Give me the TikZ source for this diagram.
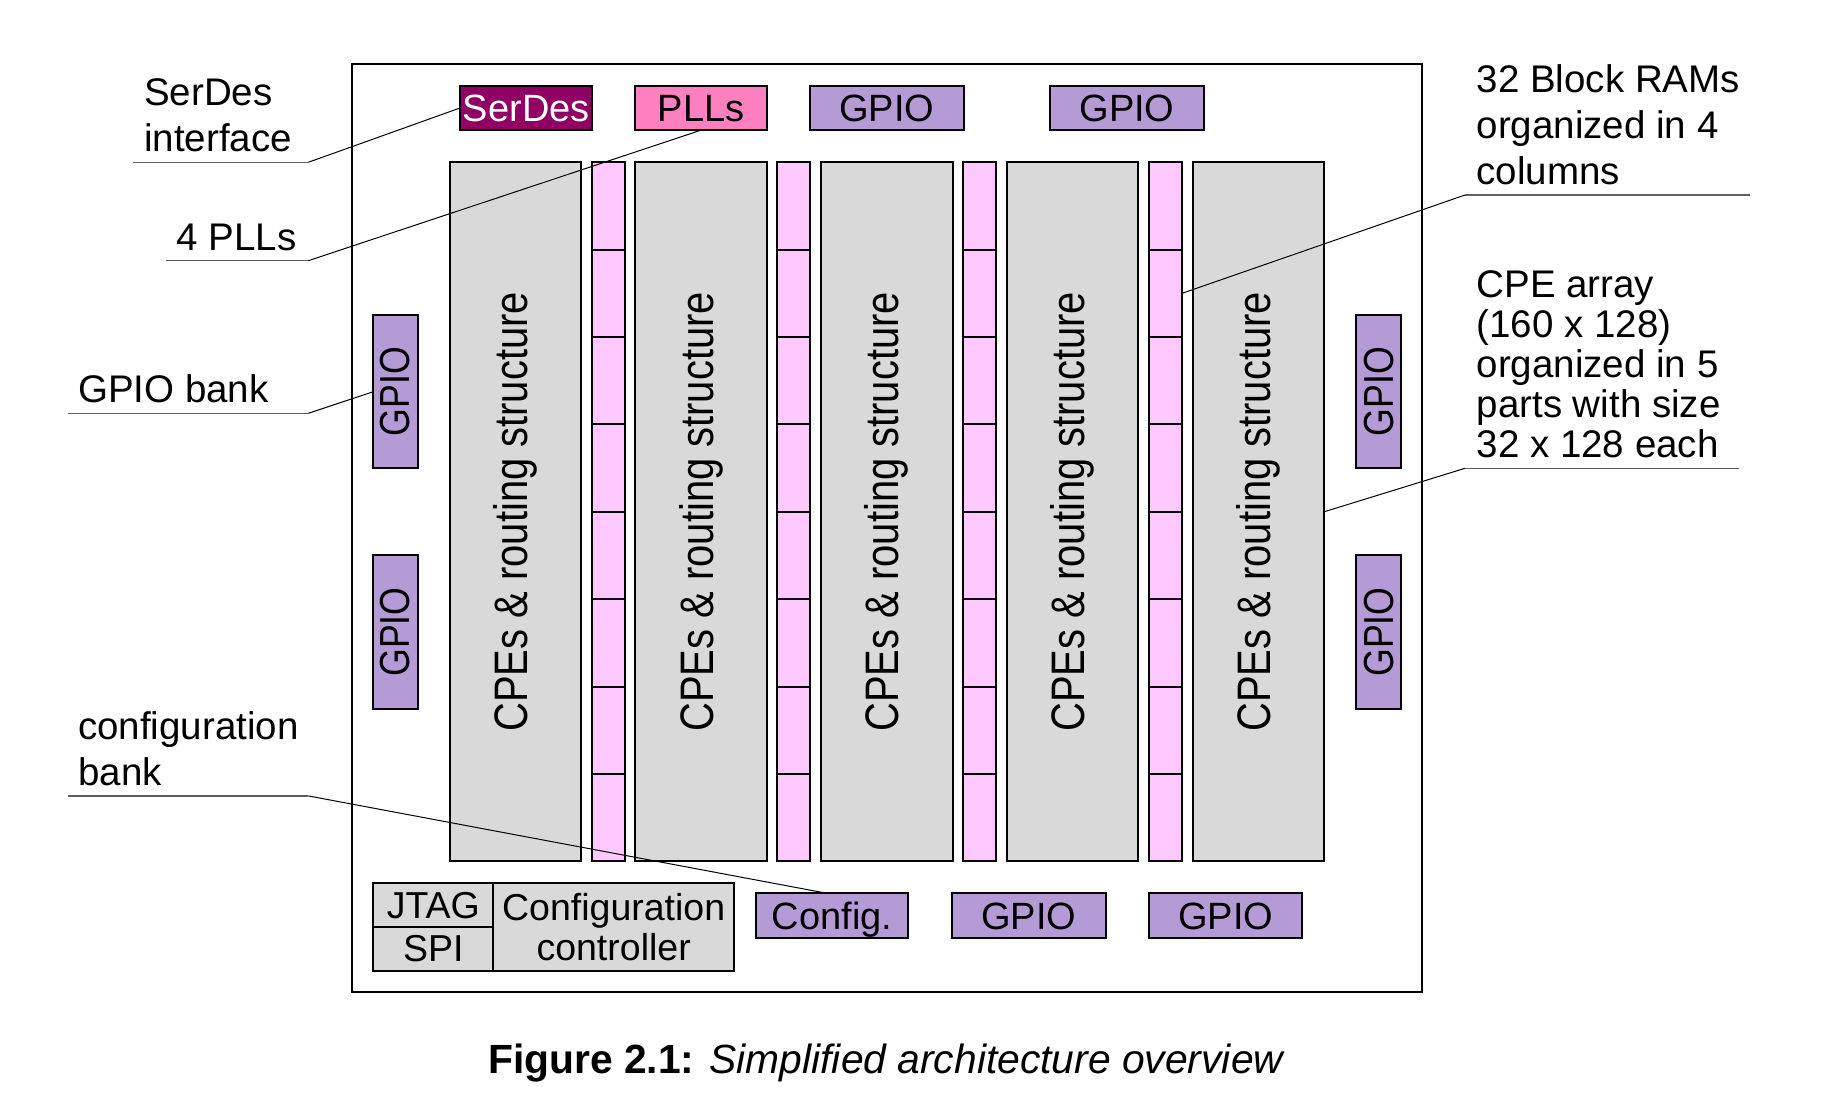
\documentclass[tikz,border=0pt]{standalone}
\usepackage{fontspec}
\usepackage{graphicx}
\setmainfont{Liberation Sans}
\newfontfamily\rotfont[FakeStretch=0.85]{Liberation Sans}
\definecolor{serdescol}{RGB}{144,0,100}
\definecolor{pllcol}{RGB}{255,128,192}
\definecolor{gpiocol}{RGB}{181,155,214}
\definecolor{cpecol}{RGB}{217,217,217}
\definecolor{bramcol}{RGB}{255,200,255}
\definecolor{ulcol}{RGB}{95,95,95}
\begin{document}
\begin{tikzpicture}[x=1pt,y=-1pt,
  blk/.style={draw=black, line width=2pt, inner sep=0pt, outer sep=0pt, font=\fontsize{38}{46}\selectfont},
  onel/.style={text height=26.5pt, text depth=0pt},
  gpioh/.style={blk, onel, fill=gpiocol, minimum width=153.5pt, minimum height=44.5pt},
  gpiov/.style={blk, fill=gpiocol, minimum width=44.4pt, minimum height=153.4pt},
  topbox/.style={blk, onel, minimum width=132pt, minimum height=44.5pt},
  cpe/.style={blk, fill=cpecol, minimum width=131.6pt, minimum height=699pt},
  bram/.style={blk, fill=bramcol, minimum width=33pt, minimum height=87.375pt},
  ctl/.style={blk, fill=cpecol, font=\fontsize{37.5}{40}\selectfont, align=center},
  lbl/.style={inner sep=0pt, anchor=south west, align=left, font=\fontsize{38.5}{46}\selectfont},
  uline/.style={draw=ulcol, line width=1.5pt},
  leader/.style={draw=black, line width=1pt}
]
\useasboundingbox (0,0) rectangle (1826,1102);

% outer frame
\node[draw=black, line width=2pt, inner sep=0pt, minimum width=1070.2pt, minimum height=928pt] (frame) at (886.8,528.3) {};

% top row
\node[topbox, fill=serdescol, text=white] (serdes) at (526.3,107.9) {SerDes};
\node[topbox, fill=pllcol] (plls) at (701.1,107.9) {PLLs};
\node[gpioh] (gt1) at (886.8,107.9) {GPIO};
\node[gpioh] (gt2) at (1127,107.9) {GPIO};

% CPE columns
\foreach \i in {1,...,5} {
  \node[cpe] (cpe\i) at ({515.3+185.75*(\i-1)},511.8)
    {\rotatebox{90}{\rotfont\fontsize{47}{50}\selectfont CPEs \& routing structure}};
}
% Block RAM columns
\foreach \i in {1,...,4} {
  \foreach \j in {1,...,8} {
    \node[bram] (b\i-\j) at ({608.2+185.75*(\i-1)},{162.3+87.375*(\j-0.5)}) {};
  }
}

% side GPIO banks
\node[gpiov] (gl1) at (395.5,391.7) {\rotatebox{90}{\rotfont\fontsize{42}{46}\selectfont GPIO}};
\node[gpiov] (gl2) at (395.5,632) {\rotatebox{90}{\rotfont\fontsize{42}{46}\selectfont GPIO}};
\node[gpiov] (gr1) at (1378.6,391.7) {\rotatebox{90}{\rotfont\fontsize{42}{46}\selectfont GPIO}};
\node[gpiov] (gr2) at (1378.6,632) {\rotatebox{90}{\rotfont\fontsize{42}{46}\selectfont GPIO}};

% bottom row
\node[ctl, onel, minimum width=120pt, minimum height=43.4pt] (jtag) at (433.3,905) {JTAG};
\node[ctl, onel, minimum width=120pt, minimum height=44pt] (spi) at (433.3,948.7) {SPI};
\node[ctl, minimum width=240.7pt, minimum height=87.4pt] (ctrl) at (613.65,927) {Configuration\\controller};
\node[gpioh, minimum width=152.5pt, minimum height=45pt] (cfg) at (832,915.8) {Config.};
\node[gpioh, minimum height=45pt] (gb1) at (1028.9,915.8) {GPIO};
\node[gpioh, minimum height=45pt] (gb2) at (1225.7,915.8) {GPIO};

% labels
\node[lbl] (lsd) at (144,152.3) {SerDes\\interface};
\node[lbl] (lpll) at (176.5,250.7) {4 PLLs};
\node[lbl] (lgpio) at (78,403.3) {GPIO bank};
\node[lbl] (lcfg) at (78,785.9) {configuration\\bank};
\node[lbl] (lbram) at (1476.5,185) {32 Block RAMs\\organized in 4\\columns};
\node[lbl, font=\fontsize{38.5}{40}\selectfont] (lcpe) at (1476.5,458.3) {CPE array\\(160 x 128)\\organized in 5\\parts with size\\32 x 128 each};

% underlines
\coordinate (u1a) at (133.3,162.3); \coordinate (u1b) at (308.3,162.3);
\coordinate (u2a) at (166,260.7);   \coordinate (u2b) at (308.3,260.7);
\coordinate (u3a) at (68,413.3);    \coordinate (u3b) at (308.3,413.3);
\coordinate (u4a) at (68,795.9);    \coordinate (u4b) at (308.3,795.9);
\coordinate (u5a) at (1465,195);    \coordinate (u5b) at (1750,195);
\coordinate (u6a) at (1465,468.3);  \coordinate (u6b) at (1738.5,468.3);
\draw[uline] (u1a) -- (u1b);
\draw[uline] (u2a) -- (u2b);
\draw[uline] (u3a) -- (u3b);
\draw[uline] (u4a) -- (u4b);
\draw[uline] (u5a) -- (u5b);
\draw[uline] (u6a) -- (u6b);

% leaders
\draw[leader] (u1b) -- (serdes.west);
\draw[leader] (u2b) -- (plls.south);
\draw[leader] (u3b) -- (gl1.west);
\draw[leader] (u4b) -- ([xshift=-5pt]cfg.north);
\draw[leader] (u5a) -- (b4-2.east);
\draw[leader] (u6a) -- (cpe5.east);

% caption
\node[anchor=base, inner sep=0pt, font=\fontsize{40.8}{48}\selectfont] (cap) at (886.8,1073.3)
  {\textbf{Figure 2.1:} \textit{Simplified architecture overview}};
\end{tikzpicture}
\end{document}
